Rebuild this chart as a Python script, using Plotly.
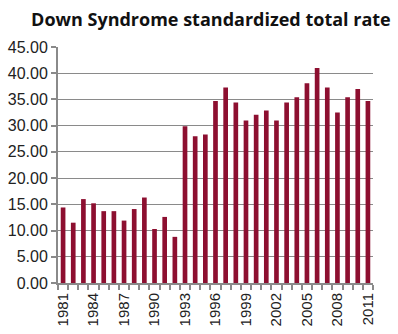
import plotly.graph_objects as go

# Down Syndrome standardized total rate per year
years = list(range(1981, 2012))
rates = [14.4, 11.5, 16.0, 15.2, 13.7, 13.7, 11.9, 14.1, 16.3, 10.3,
         12.6, 8.8, 29.9, 28.0, 28.3, 34.7, 37.3, 34.4, 31.0, 32.1,
         32.9, 31.0, 34.4, 35.4, 38.1, 41.0, 37.3, 32.5, 35.4, 37.0,
         34.7]
label_years = list(range(1981, 2012, 3))
y_ticks = [0, 5, 10, 15, 20, 25, 30, 35, 40, 45]

bar_color = "#8d0f30"
axis_gray = "#8a8a8a"

fig = go.Figure(
    go.Bar(x=years, y=rates, width=0.46, marker=dict(color=bar_color, line=dict(width=0)))
)

fig.update_layout(
    width=398,
    height=334,
    margin=dict(l=58, r=25, t=47, b=51),
    paper_bgcolor="white",
    plot_bgcolor="white",
    showlegend=False,
    title=dict(
        text="<b>Down Syndrome standardized total rate</b>",
        x=0.53, xanchor="center", y=0.94, yanchor="middle",
        font=dict(family="Open Sans", size=18, color="#111111"),
    ),
)

fig.update_xaxes(
    range=[1980.5, 2011.5],
    tickmode="array",
    tickvals=label_years,
    ticktext=[str(y) for y in label_years],
    tickangle=-90,
    ticks="",
    ticklabelstandoff=2,
    tickfont=dict(family="Liberation Sans", size=15, color="#222222"),
    showgrid=False,
    showline=True,
    linecolor=axis_gray,
    linewidth=2,
    minor=dict(tick0=1980.5, dtick=1, ticks="outside", ticklen=5, tickcolor=axis_gray, tickwidth=2, showgrid=False),
    automargin=False,
    fixedrange=True,
)

fig.update_yaxes(
    range=[0, 45],
    tickmode="array",
    tickvals=y_ticks,
    ticktext=[f"{v:.2f}" for v in y_ticks],
    ticks="outside",
    ticklen=5,
    tickcolor=axis_gray,
    tickwidth=2,
    tickfont=dict(family="Liberation Sans", size=16, color="#222222"),
    showgrid=True,
    gridcolor=axis_gray,
    gridwidth=1.3,
    showline=True,
    linecolor=axis_gray,
    linewidth=2,
    zeroline=False,
    automargin=False,
    fixedrange=True,
)

fig.write_html("out.html")
